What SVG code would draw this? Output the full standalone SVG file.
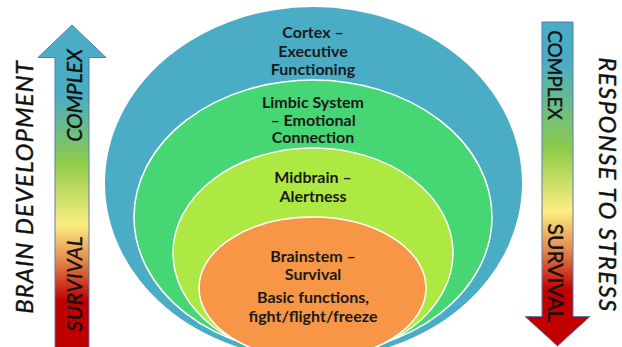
<svg xmlns="http://www.w3.org/2000/svg" width="622" height="347" viewBox="0 0 622 347">
<style>
.lbl{font-family:Lato,"Open Sans",sans-serif;font-weight:bold;font-size:16px;fill:#1a1a1a;text-anchor:middle}
.side{font-family:Lato,"Open Sans",sans-serif;font-style:italic;font-size:24px;fill:#111;stroke:#111;stroke-width:0.4;text-anchor:middle}
.arrtxt{font-family:Lato,"Open Sans",sans-serif;font-size:21px;fill:#111;stroke:#111;stroke-width:0.4;text-anchor:middle}
.ring{stroke:#ffffff;stroke-width:1.5}
.arrow{stroke:#5a7bb0;stroke-width:1}
</style>
<defs>
<linearGradient id="gUp" gradientUnits="userSpaceOnUse" x1="0" y1="57" x2="0" y2="347">
<stop offset="0" stop-color="#4BACC6"/>
<stop offset="0.13" stop-color="#4BACC6"/>
<stop offset="0.36" stop-color="#8DCB4A"/>
<stop offset="0.58" stop-color="#FCEE80"/>
<stop offset="0.70" stop-color="#E48A4E"/>
<stop offset="0.84" stop-color="#C00000"/>
<stop offset="1" stop-color="#C00000"/>
</linearGradient>
<linearGradient id="gDown" gradientUnits="userSpaceOnUse" x1="0" y1="22" x2="0" y2="317">
<stop offset="0" stop-color="#4BACC6"/>
<stop offset="0.13" stop-color="#4BACC6"/>
<stop offset="0.43" stop-color="#8DCB4A"/>
<stop offset="0.64" stop-color="#FCEE80"/>
<stop offset="0.77" stop-color="#E48A4E"/>
<stop offset="0.91" stop-color="#C00000"/>
<stop offset="1" stop-color="#C00000"/>
</linearGradient>
</defs>

<g id="cortex">
<ellipse cx="313.5" cy="183" rx="208.5" ry="176" fill="#4BACC6"/>
<text class="lbl" x="313" y="38">Cortex –</text>
<text class="lbl" x="313" y="56.5">Executive</text>
<text class="lbl" x="313" y="75">Functioning</text>
</g>
<g id="limbic">
<ellipse class="ring" cx="313" cy="217" rx="179" ry="137" fill="#47D674"/>
<text class="lbl" x="313" y="108">Limbic System</text>
<text class="lbl" x="313" y="125.5">– Emotional</text>
<text class="lbl" x="313" y="143">Connection</text>
</g>
<g id="midbrain">
<ellipse class="ring" cx="313" cy="253" rx="140" ry="105" fill="#AEE843"/>
<text class="lbl" x="313" y="183">Midbrain –</text>
<text class="lbl" x="313" y="201.5">Alertness</text>
</g>
<g id="brainstem">
<ellipse class="ring" cx="312.5" cy="288" rx="113.5" ry="71" fill="#F79646"/>
<text class="lbl" x="313" y="262">Brainstem –</text>
<text class="lbl" x="313" y="280">Survival</text>
<text class="lbl" x="313" y="303">Basic functions,</text>
<text class="lbl" x="313" y="322">fight/flight/freeze</text>
</g>

<g id="brain-development">
<path class="arrow" d="M72,25 L106,57.5 L89,57.5 L89,350 L55,350 L55,57.5 L38,57.5 Z" fill="url(#gUp)"/>
<text class="arrtxt" style="font-style:italic" transform="translate(82,95.5) rotate(-90)">COMPLEX</text>
<text class="arrtxt" style="font-style:italic;letter-spacing:0.6px" transform="translate(82,283.5) rotate(-90)">SURVIVAL</text>
<text class="side" style="letter-spacing:1px" transform="translate(33,187) rotate(-90)">BRAIN DEVELOPMENT</text>
</g>
<g id="response-to-stress">
<path class="arrow" d="M542,22 L573,22 L573,316.5 L590,316.5 L557.5,346 L525,316.5 L542,316.5 Z" fill="url(#gDown)"/>
<text class="arrtxt" style="font-size:19px" transform="translate(548,75) rotate(90)">COMPLEX</text>
<text class="arrtxt" transform="translate(548,272.5) rotate(90)">SURVIVAL</text>
<text class="side" style="letter-spacing:1.4px" transform="translate(599,185) rotate(90)">RESPONSE TO STRESS</text>
</g>
</svg>
